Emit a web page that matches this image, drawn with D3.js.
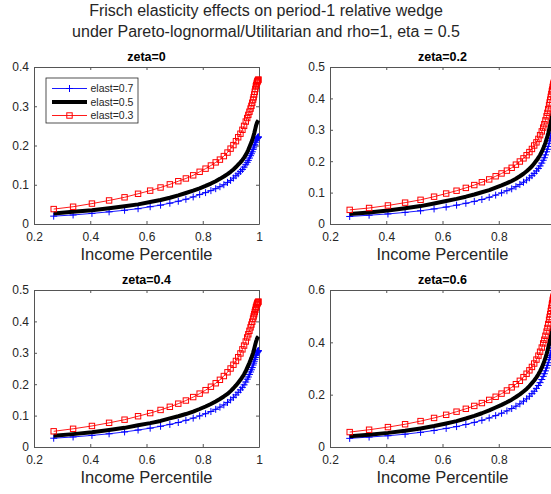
<!DOCTYPE html>
<head>
<meta charset="utf-8">
<style>
body {
    margin: 0;
    background: #fff;
}
text {
    font-family: "Liberation Sans", Arial, sans-serif;
    fill: #262626;
}
.tick text {
    font-size: 12px;
    fill: #262626;
}
.tick line, .domain {
    stroke: #555;
}
</style>
</head>
<body>
<div class="fig"></div>

<script src="https://d3js.org/d3.v7.min.js"></script>

<script>
// income percentile grid (shared by every curve)
const percentile = [0.270, 0.339, 0.406, 0.467, 0.522, 0.570, 0.613, 0.650, 0.683, 0.713,
                    0.740, 0.766, 0.789, 0.810, 0.829, 0.846, 0.861, 0.875, 0.888, 0.899,
                    0.909, 0.918, 0.926, 0.934, 0.941, 0.947, 0.953, 0.958, 0.962, 0.966,
                    0.970, 0.973, 0.976, 0.979, 0.981, 0.983, 0.985, 0.987, 0.989, 0.990,
                    0.992, 0.993, 0.994, 0.995, 0.996, 0.997, 0.998];

// zeta = 0
const zeta0Elast07 = [0.020, 0.023, 0.027, 0.031, 0.035, 0.039, 0.044, 0.048, 0.053, 0.058,
                      0.063, 0.069, 0.075, 0.080, 0.085, 0.090, 0.095, 0.100, 0.106, 0.111,
                      0.117, 0.123, 0.128, 0.134, 0.139, 0.145, 0.151, 0.157, 0.162, 0.168,
                      0.174, 0.179, 0.184, 0.190, 0.194, 0.199, 0.203, 0.208, 0.212, 0.214,
                      0.217, 0.218, 0.219, 0.220, 0.221, 0.221, 0.222];
const zeta0Elast05 = [0.027, 0.031, 0.035, 0.040, 0.045, 0.050, 0.056, 0.061, 0.067, 0.073,
                      0.079, 0.085, 0.091, 0.097, 0.103, 0.109, 0.115, 0.121, 0.127, 0.133,
                      0.139, 0.145, 0.151, 0.157, 0.163, 0.169, 0.176, 0.183, 0.189, 0.196,
                      0.203, 0.208, 0.214, 0.221, 0.226, 0.231, 0.237, 0.243, 0.249, 0.252,
                      0.256, 0.258, 0.260, 0.261, 0.262, 0.263, 0.264];
const zeta0Elast03 = [0.038, 0.044, 0.052, 0.060, 0.068, 0.077, 0.085, 0.093, 0.101, 0.109,
                      0.116, 0.124, 0.133, 0.141, 0.149, 0.157, 0.164, 0.173, 0.182, 0.192,
                      0.201, 0.211, 0.221, 0.230, 0.240, 0.250, 0.261, 0.270, 0.278, 0.286,
                      0.294, 0.301, 0.309, 0.317, 0.323, 0.330, 0.337, 0.344, 0.351, 0.354,
                      0.358, 0.361, 0.363, 0.364, 0.366, 0.367, 0.368];

// zeta = 0.2
const zeta02Elast07 = [0.024, 0.028, 0.032, 0.037, 0.042, 0.048, 0.054, 0.060, 0.066, 0.072,
                       0.078, 0.085, 0.092, 0.099, 0.106, 0.112, 0.119, 0.126, 0.133, 0.140,
                       0.147, 0.154, 0.161, 0.169, 0.177, 0.185, 0.194, 0.203, 0.211, 0.220,
                       0.230, 0.238, 0.247, 0.257, 0.265, 0.273, 0.281, 0.289, 0.297, 0.301,
                       0.308, 0.311, 0.314, 0.316, 0.318, 0.319, 0.320];
const zeta02Elast05 = [0.032, 0.037, 0.043, 0.050, 0.057, 0.065, 0.073, 0.080, 0.087, 0.094,
                       0.101, 0.108, 0.116, 0.123, 0.130, 0.137, 0.144, 0.152, 0.160, 0.168,
                       0.176, 0.184, 0.193, 0.202, 0.211, 0.220, 0.230, 0.240, 0.249, 0.259,
                       0.270, 0.279, 0.289, 0.300, 0.308, 0.317, 0.326, 0.335, 0.344, 0.349,
                       0.357, 0.361, 0.364, 0.367, 0.369, 0.371, 0.372];
const zeta02Elast03 = [0.045, 0.051, 0.059, 0.068, 0.077, 0.087, 0.097, 0.106, 0.115, 0.124,
                       0.133, 0.142, 0.152, 0.161, 0.170, 0.179, 0.189, 0.199, 0.209, 0.219,
                       0.229, 0.239, 0.250, 0.260, 0.271, 0.283, 0.295, 0.307, 0.318, 0.330,
                       0.343, 0.354, 0.366, 0.378, 0.387, 0.396, 0.405, 0.414, 0.423, 0.428,
                       0.436, 0.440, 0.444, 0.447, 0.450, 0.452, 0.454];

// zeta = 0.4
const zeta04Elast07 = [0.028, 0.032, 0.037, 0.042, 0.048, 0.054, 0.060, 0.066, 0.072, 0.078,
                       0.085, 0.092, 0.099, 0.106, 0.113, 0.120, 0.127, 0.134, 0.142, 0.150,
                       0.158, 0.166, 0.174, 0.182, 0.190, 0.198, 0.207, 0.216, 0.223, 0.231,
                       0.239, 0.246, 0.253, 0.261, 0.267, 0.273, 0.279, 0.285, 0.291, 0.294,
                       0.299, 0.301, 0.303, 0.304, 0.305, 0.306, 0.307];
const zeta04Elast05 = [0.036, 0.041, 0.047, 0.054, 0.061, 0.069, 0.076, 0.083, 0.091, 0.098,
                       0.105, 0.113, 0.121, 0.129, 0.137, 0.145, 0.153, 0.161, 0.169, 0.178,
                       0.187, 0.196, 0.205, 0.214, 0.223, 0.232, 0.242, 0.252, 0.260, 0.268,
                       0.277, 0.284, 0.292, 0.300, 0.306, 0.313, 0.320, 0.327, 0.334, 0.337,
                       0.342, 0.345, 0.347, 0.349, 0.350, 0.351, 0.352];
const zeta04Elast03 = [0.050, 0.058, 0.067, 0.077, 0.087, 0.098, 0.108, 0.118, 0.128, 0.138,
                       0.148, 0.159, 0.170, 0.181, 0.192, 0.203, 0.214, 0.226, 0.238, 0.250,
                       0.262, 0.274, 0.286, 0.298, 0.311, 0.323, 0.336, 0.349, 0.359, 0.370,
                       0.381, 0.390, 0.399, 0.409, 0.416, 0.423, 0.430, 0.437, 0.444, 0.447,
                       0.452, 0.455, 0.457, 0.459, 0.461, 0.462, 0.463];

// zeta = 0.6
const zeta06Elast07 = [0.033, 0.038, 0.043, 0.049, 0.056, 0.063, 0.071, 0.078, 0.086, 0.094,
                       0.102, 0.111, 0.120, 0.129, 0.138, 0.147, 0.156, 0.165, 0.175, 0.184,
                       0.194, 0.204, 0.213, 0.224, 0.235, 0.246, 0.258, 0.270, 0.280, 0.291,
                       0.302, 0.312, 0.322, 0.334, 0.342, 0.350, 0.359, 0.368, 0.377, 0.381,
                       0.388, 0.392, 0.395, 0.397, 0.399, 0.400, 0.401];
const zeta06Elast05 = [0.041, 0.047, 0.054, 0.062, 0.071, 0.080, 0.090, 0.099, 0.109, 0.119,
                       0.129, 0.140, 0.151, 0.161, 0.171, 0.181, 0.191, 0.201, 0.212, 0.222,
                       0.233, 0.244, 0.254, 0.266, 0.278, 0.290, 0.303, 0.316, 0.328, 0.341,
                       0.355, 0.367, 0.380, 0.394, 0.404, 0.414, 0.425, 0.436, 0.447, 0.452,
                       0.461, 0.465, 0.469, 0.472, 0.475, 0.477, 0.478];
const zeta06Elast03 = [0.057, 0.066, 0.076, 0.087, 0.099, 0.111, 0.123, 0.135, 0.146, 0.157,
                       0.168, 0.180, 0.192, 0.204, 0.216, 0.228, 0.240, 0.253, 0.267, 0.280,
                       0.293, 0.306, 0.319, 0.334, 0.349, 0.364, 0.380, 0.396, 0.410, 0.425,
                       0.441, 0.455, 0.470, 0.486, 0.497, 0.508, 0.520, 0.532, 0.544, 0.550,
                       0.560, 0.565, 0.569, 0.573, 0.576, 0.578, 0.580];

// tick labels
const xTicks = [0.2, 0.4, 0.6, 0.8, 1];
const yTicksZeta0 = [0, 0.1, 0.2, 0.3, 0.4];
const yTicksZeta02 = [0, 0.1, 0.2, 0.3, 0.4, 0.5];
const yTicksZeta04 = [0, 0.1, 0.2, 0.3, 0.4, 0.5];
const yTicksZeta06 = [0, 0.2, 0.4, 0.6];

const legendLabels = ["elast=0.7", "elast=0.5", "elast=0.3"];
const panelTitles = ["zeta=0", "zeta=0.2", "zeta=0.4", "zeta=0.6"];
const suptitle = ["Frisch elasticity effects on period-1 relative wedge",
                  "under Pareto-lognormal/Utilitarian and rho=1, eta = 0.5"];
const xLabel = "Income Percentile";

// styles of the three elasticity series, same order as legendLabels
const seriesStyle = [
    { color: "#0000ff", width: 0.9, marker: "plus" },
    { color: "#000000", width: 4, marker: null },
    { color: "#ff0000", width: 0.9, marker: "square" }
];

const W = 551, H = 494;
const axW = 225, axH = 157;

const svg = d3.select(".fig")
              .append("svg")
                  .attr("width", W)
                  .attr("height", H);

svg.selectAll(".suptitle")
   .data(suptitle)
   .enter()
   .append("text")
       .attr("class", "suptitle")
       .attr("x", 266)
       .attr("y", function(d, i) { return 16 + i * 21; })
       .attr("text-anchor", "middle")
       .style("font-size", "16px")
       .text(function(d) { return d; });

const panels = [
    { title: panelTitles[0], left: 34, top: 67, yMax: 0.4, yTicks: yTicksZeta0,
      series: [zeta0Elast07, zeta0Elast05, zeta0Elast03], legend: true },
    { title: panelTitles[1], left: 330, top: 67, yMax: 0.5, yTicks: yTicksZeta02,
      series: [zeta02Elast07, zeta02Elast05, zeta02Elast03], legend: false },
    { title: panelTitles[2], left: 34, top: 290, yMax: 0.5, yTicks: yTicksZeta04,
      series: [zeta04Elast07, zeta04Elast05, zeta04Elast03], legend: false },
    { title: panelTitles[3], left: 330, top: 290, yMax: 0.6, yTicks: yTicksZeta06,
      series: [zeta06Elast07, zeta06Elast05, zeta06Elast03], legend: false }
];

function drawMarker(sel, kind, color) {
    if (kind === "plus") {
        sel.append("path")
           .attr("d", "M-3.5,0H3.5M0,-3.5V3.5")
           .attr("stroke", color)
           .attr("stroke-width", 1)
           .attr("fill", "none");
    } else if (kind === "square") {
        sel.append("rect")
           .attr("x", -2.7).attr("y", -2.7)
           .attr("width", 5.4).attr("height", 5.4)
           .attr("stroke", color)
           .attr("stroke-width", 1)
           .attr("fill", "none");
    }
}

panels.forEach(function(pn) {
    const g = svg.append("g")
                 .attr("transform", "translate(" + pn.left + "," + pn.top + ")");

    const x = d3.scaleLinear().domain([0.2, 1]).range([0, axW]);
    const y = d3.scaleLinear().domain([0, pn.yMax]).range([axH, 0]);
    const fmt = d3.format("~g");

    g.append("rect")
     .attr("width", axW).attr("height", axH)
     .attr("fill", "#fff");

    // box with inward ticks
    g.append("g")
     .attr("transform", "translate(0," + axH + ")")
     .call(d3.axisBottom(x).tickValues(xTicks).tickFormat(fmt)
             .tickSizeInner(-3).tickSizeOuter(0).tickPadding(8));
    g.append("g")
     .call(d3.axisTop(x).tickValues(xTicks).tickFormat("")
             .tickSizeInner(-3).tickSizeOuter(0));
    g.append("g")
     .call(d3.axisLeft(y).tickValues(pn.yTicks).tickFormat(fmt)
             .tickSizeInner(-3).tickSizeOuter(0).tickPadding(5));
    g.append("g")
     .attr("transform", "translate(" + axW + ",0)")
     .call(d3.axisRight(y).tickValues(pn.yTicks).tickFormat("")
             .tickSizeInner(-3).tickSizeOuter(0));
    g.selectAll(".tick text").attr("font-family", null);
    g.selectAll(".domain, .tick line").attr("stroke", "#555");

    const line = d3.line()
                   .x(function(d) { return x(d.p); })
                   .y(function(d) { return y(d.v); });

    pn.series.forEach(function(vals, si) {
        const st = seriesStyle[si];
        const pts = percentile.map(function(p, i) { return { p: p, v: vals[i] }; });
        g.append("path")
         .datum(pts)
         .attr("d", line)
         .attr("fill", "none")
         .attr("stroke", st.color)
         .attr("stroke-width", st.width)
         .attr("stroke-linejoin", "round");
        if (st.marker) {
            const m = g.selectAll(".m" + si)
                       .data(pts)
                       .enter()
                       .append("g")
                           .attr("class", "m" + si)
                           .attr("transform", function(d) { return "translate(" + x(d.p) + "," + y(d.v) + ")"; });
            drawMarker(m, st.marker, st.color);
        }
    });

    g.append("text")
     .attr("x", axW / 2)
     .attr("y", -6)
     .attr("text-anchor", "middle")
     .style("font-size", "12.5px")
     .style("font-weight", "bold")
     .style("fill", "#000")
     .text(pn.title);

    g.append("text")
     .attr("x", axW / 2)
     .attr("y", axH + 36)
     .attr("text-anchor", "middle")
     .style("font-size", "16.5px")
     .text(xLabel);

    if (pn.legend) {
        const lg = g.append("g").attr("transform", "translate(12,11)");
        lg.append("rect")
          .attr("width", 92).attr("height", 45)
          .attr("fill", "#fff")
          .attr("stroke", "#262626")
          .attr("stroke-width", 0.8);
        legendLabels.forEach(function(lab, i) {
            const st = seriesStyle[i];
            const row = lg.append("g").attr("transform", "translate(0," + (10.5 + i * 13.5) + ")");
            row.append("line")
               .attr("x1", 6).attr("x2", 41)
               .attr("stroke", st.color)
               .attr("stroke-width", st.width);
            if (st.marker) {
                drawMarker(row.append("g").attr("transform", "translate(23.5,0)"), st.marker, st.color);
            }
            row.append("text")
               .attr("x", 44.5)
               .attr("y", 3.7)
               .style("font-size", "10.5px")
               .text(lab);
        });
    }
});
</script>
</body>
